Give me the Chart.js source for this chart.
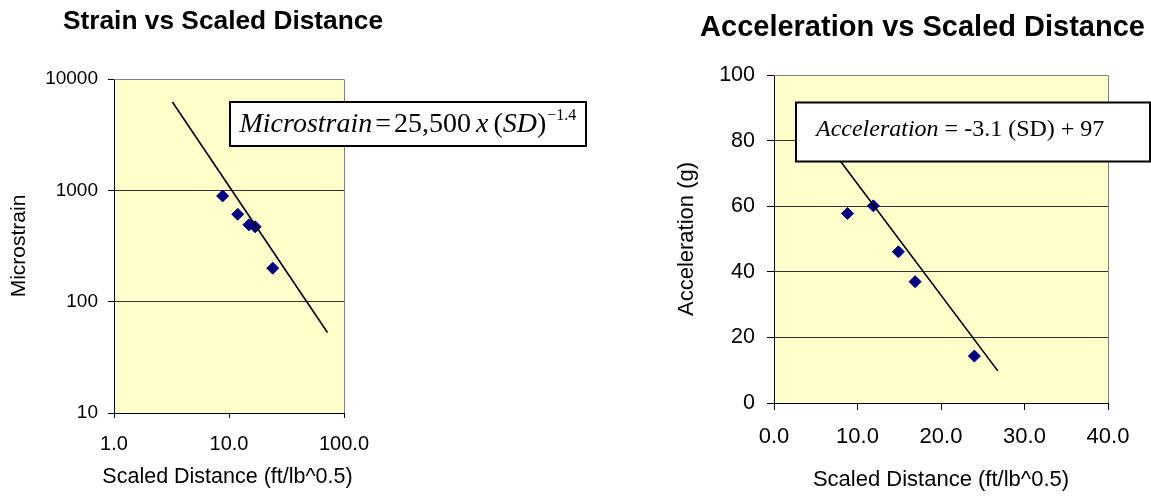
<!DOCTYPE html>
<html>
<head>
<meta charset="utf-8">
<script src="https://cdn.jsdelivr.net/npm/chart.js@4/dist/chart.umd.min.js"></script>
<style>
  html, body { margin: 0; padding: 0; background: #ffffff; }
  #wrap { position: relative; width: 1151px; height: 497px; overflow: hidden; }
  canvas { position: absolute; top: 0; }
  #strain { left: 0; }
  #accel { left: 600px; }
</style>
</head>
<body>
<div id="wrap">
  <canvas id="strain" width="600" height="497"></canvas>
  <canvas id="accel" width="551" height="497"></canvas>
</div>
<script>
// Blast monitoring results: five shots, scaled distance in ft/lb^0.5
const SCALED_DISTANCE = [8.8, 11.9, 14.9, 16.9, 24.0];
const MICROSTRAIN = [890, 610, 490, 470, 200];
const ACCELERATION = [57.8, 60.1, 46.1, 37.0, 14.3];

// Fitted trend lines (end points)
const STRAIN_TREND_SD = [3.22, 71.8];
const STRAIN_TREND_VALUE = [6220, 52.8];
const ACCEL_TREND_SD = [7.6, 26.8];
const ACCEL_TREND_VALUE = [74.9, 9.8];

// Axis ticks and their labels
const STRAIN_X_TICKS = [1, 10, 100];
const STRAIN_X_LABELS = ['1.0', '10.0', '100.0'];
const STRAIN_Y_TICKS = [10, 100, 1000, 10000];
const STRAIN_Y_LABELS = ['10', '100', '1000', '10000'];
const ACCEL_X_TICKS = [0, 10, 20, 30, 40];
const ACCEL_X_LABELS = ['0.0', '10.0', '20.0', '30.0', '40.0'];
const ACCEL_Y_TICKS = [0, 20, 40, 60, 80, 100];
const ACCEL_Y_LABELS = ['0', '20', '40', '60', '80', '100'];

const SANS = '"Liberation Sans", Arial, sans-serif';
const SERIF = '"Liberation Serif", "Times New Roman", serif';
const MARKER = '#000080';
const PLOT_BG = '#FFFFCC';

function pairs(xs, ys) { return xs.map((x, i) => ({ x: x, y: ys[i] })); }

// Paints the plot background, the grey plot frame, titles and the equation box
function framePlugin(cfg) {
  return {
    id: 'frame_' + cfg.key,
    beforeDraw(chart) {
      const ctx = chart.ctx, a = chart.chartArea;
      ctx.save();
      ctx.fillStyle = '#ffffff';
      ctx.fillRect(0, 0, chart.width, chart.height);
      ctx.fillStyle = PLOT_BG;
      ctx.fillRect(a.left, a.top, a.right - a.left, a.bottom - a.top);
      ctx.restore();
    },
    beforeDatasetsDraw(chart) {
      const ctx = chart.ctx, a = chart.chartArea;
      ctx.save();
      ctx.strokeStyle = '#808080';
      ctx.lineWidth = 1;
      const t = Math.round(a.top - 0.5) + 0.5;
      const r = Math.round(a.right - 0.5) + 0.5;
      ctx.beginPath();
      ctx.moveTo(a.left, t);
      ctx.lineTo(r, t);
      ctx.lineTo(r, a.bottom);
      ctx.stroke();
      ctx.restore();
    },
    afterDraw(chart) {
      const ctx = chart.ctx;
      ctx.save();
      ctx.fillStyle = '#000';
      ctx.textBaseline = 'alphabetic';
      // chart title
      ctx.font = 'bold ' + cfg.titleSize + 'px ' + SANS;
      ctx.textAlign = 'center';
      ctx.fillText(cfg.title, cfg.titleX, cfg.titleY);
      // horizontal axis title (when it is wider than the plot)
      if (cfg.xTitle) {
        ctx.font = cfg.xTitle.size + 'px ' + SANS;
        ctx.fillText(cfg.xTitle.text, cfg.xTitle.x, cfg.xTitle.y);
      }
      // equation box
      const b = cfg.box;
      ctx.fillStyle = '#ffffff';
      ctx.fillRect(b.x, b.y, b.w, b.h);
      ctx.strokeStyle = '#000';
      ctx.lineWidth = 2;
      ctx.strokeRect(b.x, b.y, b.w, b.h);
      ctx.fillStyle = '#000';
      ctx.textAlign = 'left';
      let x = b.textX;
      for (const run of cfg.runs) {
        ctx.font = (run.italic ? 'italic ' : '') + run.size + 'px ' + SERIF;
        x += run.gap || 0;
        ctx.fillText(run.text, x, b.baseline - (run.rise || 0));
        x += ctx.measureText(run.text).width;
      }
      ctx.restore();
    }
  };
}

function fixedTicks(values) {
  return function (scale) { scale.ticks = values.map(v => ({ value: v })); };
}

// ---------- Strain vs Scaled Distance (log-log) ----------
new Chart(document.getElementById('strain'), {
  type: 'scatter',
  data: {
    datasets: [
      {
        label: 'Power fit',
        data: pairs(STRAIN_TREND_SD, STRAIN_TREND_VALUE),
        showLine: true,
        borderColor: '#000',
        borderWidth: 1.6,
        pointRadius: 0,
        fill: false
      },
      {
        label: 'Microstrain',
        data: pairs(SCALED_DISTANCE, MICROSTRAIN),
        pointStyle: 'rectRot',
        pointRadius: 6,
        pointBorderWidth: 1,
        backgroundColor: MARKER,
        borderColor: MARKER,
        showLine: false
      }
    ]
  },
  options: {
    responsive: false,
    animation: false,
    devicePixelRatio: 1,
    layout: { padding: { left: 0, right: 256, top: 79, bottom: 0 } },
    plugins: { legend: { display: false }, tooltip: { enabled: false }, title: { display: false } },
    scales: {
      x: {
        type: 'logarithmic',
        position: 'bottom',
        min: 1, max: 100,
        afterBuildTicks: fixedTicks(STRAIN_X_TICKS),
        afterFit: s => { s.height = 84; },
        ticks: {
          autoSkip: false, maxRotation: 0, padding: 14, color: '#000',
          font: { family: SANS, size: 20 },
          callback: (v, i) => STRAIN_X_LABELS[i]
        },
        grid: { drawOnChartArea: false, drawTicks: true, tickLength: 5, color: '#000' },
        border: { display: true, color: '#000', width: 1 },
        title: { display: false }
      },
      y: {
        type: 'logarithmic',
        position: 'left',
        min: 10, max: 10000,
        afterBuildTicks: fixedTicks(STRAIN_Y_TICKS),
        afterFit: s => { s.width = 114; },
        ticks: {
          autoSkip: false, padding: 10, color: '#000',
          font: { family: SANS, size: 19 },
          callback: (v, i) => STRAIN_Y_LABELS[i]
        },
        grid: { drawOnChartArea: true, drawTicks: true, tickLength: 6, color: '#333', tickColor: '#000' },
        border: { display: true, color: '#000', width: 1 },
        title: {
          display: true, text: 'Microstrain', color: '#000',
          font: { family: SANS, size: 21 }, padding: { top: 7, bottom: 0 }
        }
      }
    }
  },
  plugins: [framePlugin({
    key: 'strain',
    title: 'Strain vs Scaled Distance', titleSize: 26.3, titleX: 223, titleY: 29,
    xTitle: { text: 'Scaled Distance (ft/lb^0.5)', size: 21.5, x: 227.5, y: 483 },
    box: { x: 230, y: 102, w: 356, h: 44, textX: 239.5, baseline: 132 },
    runs: [
      { text: 'Microstrain', italic: true, size: 28 },
      { text: '=', size: 28, gap: 3 },
      { text: '25,500', size: 28, gap: 3 },
      { text: 'x', italic: true, size: 28, gap: 5 },
      { text: '(', size: 28, gap: 5 },
      { text: 'SD', italic: true, size: 28 },
      { text: ')', size: 28 },
      { text: '\u22121.4', size: 16, gap: 1, rise: 12 }
    ]
  })]
});

// ---------- Acceleration vs Scaled Distance (linear) ----------
new Chart(document.getElementById('accel'), {
  type: 'scatter',
  data: {
    datasets: [
      {
        label: 'Linear fit',
        data: pairs(ACCEL_TREND_SD, ACCEL_TREND_VALUE),
        showLine: true,
        borderColor: '#000',
        borderWidth: 1.6,
        pointRadius: 0,
        fill: false
      },
      {
        label: 'Acceleration',
        data: pairs(SCALED_DISTANCE, ACCELERATION),
        pointStyle: 'rectRot',
        pointRadius: 6,
        pointBorderWidth: 1,
        backgroundColor: MARKER,
        borderColor: MARKER,
        showLine: false
      }
    ]
  },
  options: {
    responsive: false,
    animation: false,
    devicePixelRatio: 1,
    layout: { padding: { left: 0, right: 43, top: 75, bottom: 0 } },
    plugins: { legend: { display: false }, tooltip: { enabled: false }, title: { display: false } },
    scales: {
      x: {
        type: 'linear',
        position: 'bottom',
        min: 0, max: 40,
        afterBuildTicks: fixedTicks(ACCEL_X_TICKS),
        afterFit: s => { s.height = 94; },
        ticks: {
          autoSkip: false, maxRotation: 0, padding: 14, color: '#000',
          font: { family: SANS, size: 22 },
          callback: (v, i) => ACCEL_X_LABELS[i]
        },
        grid: { drawOnChartArea: false, drawTicks: true, tickLength: 7, color: '#000' },
        border: { display: true, color: '#000', width: 1 },
        title: {
          display: true, text: 'Scaled Distance (ft/lb^0.5)', color: '#000',
          font: { family: SANS, size: 22 }, padding: { top: 0, bottom: 4 }
        }
      },
      y: {
        type: 'linear',
        position: 'left',
        min: 0, max: 100,
        afterBuildTicks: fixedTicks(ACCEL_Y_TICKS),
        afterFit: s => { s.width = 174; },
        ticks: {
          autoSkip: false, padding: 12, color: '#000',
          font: { family: SANS, size: 21.5 },
          callback: (v, i) => ACCEL_Y_LABELS[i]
        },
        grid: { drawOnChartArea: true, drawTicks: true, tickLength: 7, color: '#333', tickColor: '#000' },
        border: { display: true, color: '#000', width: 1 },
        title: {
          display: true, text: 'Acceleration (g)', color: '#000',
          font: { family: SANS, size: 22 }, padding: { top: 74, bottom: 0 }
        }
      }
    }
  },
  plugins: [framePlugin({
    key: 'accel',
    title: 'Acceleration vs Scaled Distance', titleSize: 29, titleX: 322.5, titleY: 36,
    box: { x: 196, y: 102.5, w: 354, h: 59, textX: 216, baseline: 135.5 },
    runs: [
      { text: 'Acceleration', italic: true, size: 24 },
      { text: ' = -3.1 (SD) + 97', size: 24 }
    ]
  })]
});
</script>
</body>
</html>
